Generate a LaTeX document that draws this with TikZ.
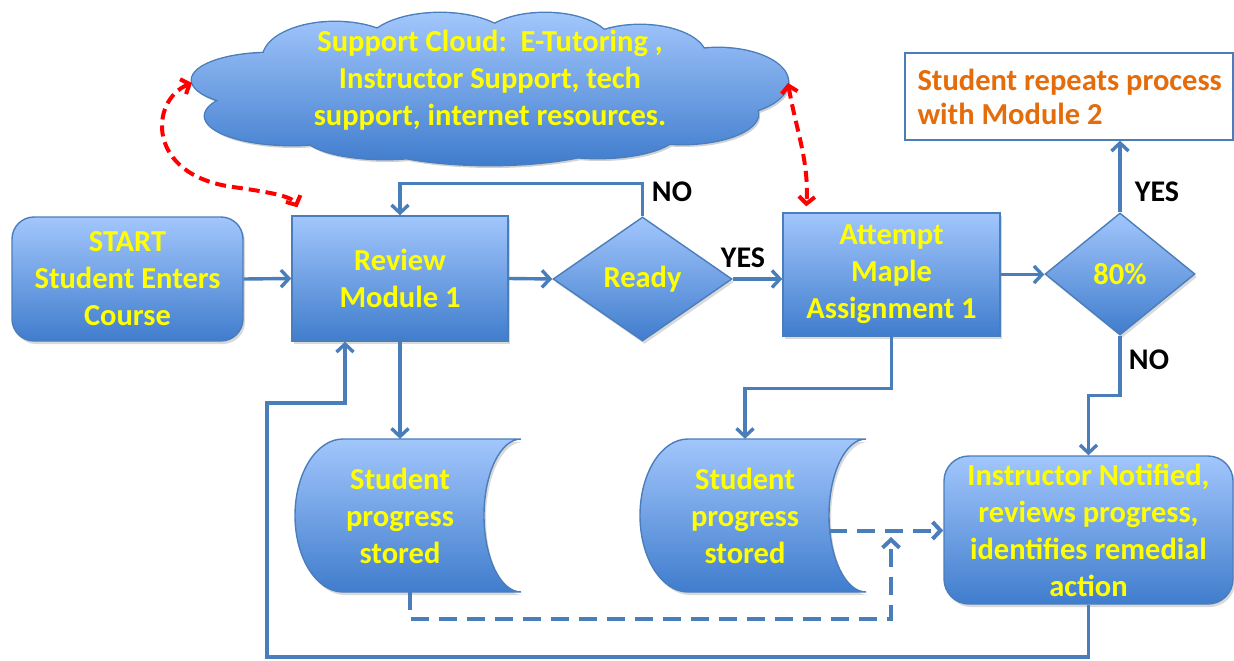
\documentclass[tikz,border=0pt]{standalone}
\usepackage{fontspec}
\setmainfont{Carlito}
\usetikzlibrary{shapes.geometric,arrows.meta,calc,shadows}

\definecolor{ctop}{RGB}{162,198,252}
\definecolor{cbot}{RGB}{64,125,205}
\definecolor{cline}{RGB}{74,126,187}
\definecolor{corange}{RGB}{228,108,10}
\definecolor{cyel}{RGB}{255,255,0}

\tikzset{
  box/.style={draw=cline, line width=1.4pt, top color=ctop, bottom color=cbot,
    text=cyel, font=\fontsize{30.5}{37}\selectfont\bfseries, align=center, inner sep=0pt,
    drop shadow={opacity=0.3, shadow xshift=2pt, shadow yshift=-3pt}},
  plaintext/.style={text=cyel, font=\fontsize{30.5}{37}\selectfont\bfseries, align=center, inner sep=0pt},
  lbl/.style={text=black, font=\fontsize{30}{34}\selectfont\bfseries, inner sep=0pt},
  conn/.style={draw=cline, line width=3.4pt, -{Straight Barb[length=8pt,width=17pt]}},
  connd/.style={conn, line width=4pt, dash pattern=on 18pt off 10pt},
  redarr/.style={draw=red, line width=4pt, dash pattern=on 11pt off 6pt,
    {Straight Barb[length=7pt,width=16pt]}-{Straight Barb[length=7pt,width=16pt]}},
}
\newcommand\storeshape[1]{%
  \path[box, shift={(#1)}] (-57,-76.5) .. controls (-83.5,-76.5) and (-105,-42.3) .. (-105,0)
    .. controls (-105,42.3) and (-83.5,76.5) .. (-57,76.5) -- (121,76.5)
    .. controls (100.6,76.5) and (84,42.3) .. (84,0)
    .. controls (84,-42.3) and (100.6,-76.5) .. (121,-76.5) -- cycle;}
\newcommand\cloudlobes{%
  (270,80) ellipse [x radius=78pt, y radius=27pt]
  (292,116) ellipse [x radius=87pt, y radius=29pt]
  (335,58) ellipse [x radius=72pt, y radius=36pt]
  (440,48) ellipse [x radius=75pt, y radius=35pt]
  (545,44) ellipse [x radius=66pt, y radius=31pt]
  (640,57) ellipse [x radius=66pt, y radius=32pt]
  (718,82) ellipse [x radius=70pt, y radius=34pt]
  (682,114) ellipse [x radius=76pt, y radius=30pt]
  (490,124) ellipse [x radius=150pt, y radius=41pt]
  (385,134) ellipse [x radius=82pt, y radius=25pt]
  (598,130) ellipse [x radius=82pt, y radius=28pt]
  (490,88) ellipse [x radius=235pt, y radius=55pt]}

\begin{document}
\begin{tikzpicture}[x=1pt,y=-1pt]
\useasboundingbox (0,0) rectangle (1234,661);

% cloud (union of lobes)
\begin{scope}[shift={(2,3)}]
  \fill[black!18] \cloudlobes;
\end{scope}
\draw[cline, line width=2.8pt] \cloudlobes;
\shade[top color=ctop, bottom color=cbot] \cloudlobes;
\node[plaintext] (cloudtxt) at (490,80) {Support Cloud:~~E-Tutoring ,\\Instructor Support, tech\\support, internet resources.};

% main nodes
\node[box, rounded corners=22pt, minimum width=231, minimum height=124] (start) at (127.5,279) {START\\Student Enters\\Course};
\node[box, minimum width=216, minimum height=125] (review) at (400,278.5) {Review\\Module 1};
\node[box, diamond, aspect=1.44, minimum width=179, minimum height=124] (ready) at (642.5,279) {Ready};
\node[box, minimum width=217, minimum height=123] (attempt) at (891.5,274.5) {Attempt\\Maple\\Assignment 1};
\node[box, diamond, aspect=1.23, minimum width=150, minimum height=122] (pct) at (1120,274) {80\%};
\node[draw=cline, line width=1.4pt, fill=white, minimum width=328, minimum height=87, inner sep=0pt] (repeat) at (1069,96.5) {};
\node[text=corange, font=\fontsize{30.5}{34}\selectfont\bfseries, align=left, anchor=west, inner sep=0pt] (repeattxt) at ($(repeat.west)+(13,0)$) {Student repeats process\\with Module 2};
\node[box, rounded corners=25pt, minimum width=289, minimum height=148] (instr) at (1088.5,530) {Instructor Notified,\\reviews progress,\\identifies remedial\\action};

% storage
\coordinate (s1c) at (400,515.5);
\coordinate (s2c) at (745,515.5);
\storeshape{s1c}
\storeshape{s2c}
\node[plaintext, minimum width=160, minimum height=153] (s1) at (s1c) {Student\\progress\\stored};
\node[plaintext, minimum width=160, minimum height=153] (s2) at (s2c) {Student\\progress\\stored};

% labels
\node[lbl] (noA) at (672,192) {NO};
\node[lbl] (yesA) at (743,258) {YES};
\node[lbl] (yesB) at (1157,192) {YES};
\node[lbl] (noB) at (1149,360) {NO};

% connectors
\draw[conn] (start.east) -- (review.west);
\draw[conn] (review.east) -- (ready.west);
\draw[conn] (ready.north) -- ++(0,-33) -| (review.north);
\draw[conn] (ready.east) -- (ready.east -| attempt.west);
\draw[conn] (attempt.east) -- (attempt.east -| pct.west);
\draw[conn] (pct.north) -- (pct.north |- repeat.south);
\draw[conn] (pct.south) -- ++(0,60) -| (instr.north);
\draw[conn] (attempt.south) -- ++(0,52) -| (s2.north);
\draw[conn] (review.south) -- (s1.north);
\coordinate (loopB) at (267,657);
\coordinate (loopL) at (267,403);
\draw[conn] (instr.south) |- (loopB) -- (loopL) -| ($(review.south)+(-55,0)$);

\coordinate (dashjoin) at (891,537);
\coordinate (s2out) at ($(s2c)+(84,15)$);
\draw[connd] ($(s1.south)+(10,0)$) -- ++(0,27) -| (dashjoin);
\draw[connd] (s2out) -- (instr.west |- s2out);

% red support arrows
\coordinate (cl) at (192,83);
\coordinate (cr) at (788,83);
\draw[redarr] (cl) .. controls (150,100) and (145,175) .. (233,187)
   .. controls (268,192) and (292,196) .. ($(review.north west)+(6,-8)$);
\draw[redarr] (cr) .. controls (796,130) and (809,160) .. ($(attempt.north west)+(24,-6)$);
\end{tikzpicture}
\end{document}
